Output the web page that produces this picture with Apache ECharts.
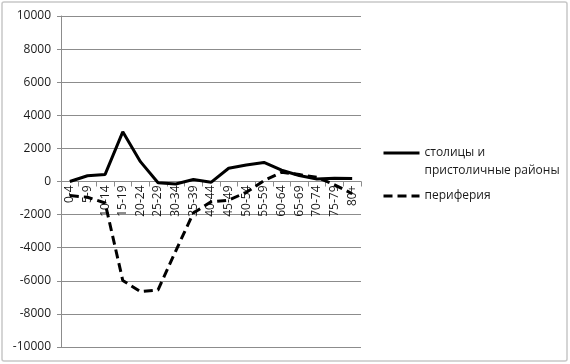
<!DOCTYPE html>
<html>
<head>
<meta charset="utf-8">
<script src="https://cdn.jsdelivr.net/npm/echarts@6/dist/echarts.min.js"></script>
<style>
html,body{margin:0;padding:0;background:#fff;}
#c{width:570px;height:364px;}
</style>
</head>
<body>
<div id="c"></div>
<script>
const categories = ['0-4','5-9','10-14','15-19','20-24','25-29','30-34','35-39','40-44','45-49','50-54','55-59','60-64','65-69','70-74','75-79','80+'];
const capitalName = 'столицы и\nпристоличные районы';
const capitalValues = [0, 350, 430, 3000, 1200, -80, -150, 120, -50, 800, 1000, 1150, 680, 360, 150, 190, 180];
const peripheryName = 'периферия';
const peripheryValues = [-850, -950, -1300, -5980, -6650, -6550, -4200, -1900, -1230, -1130, -650, 50, 560, 420, 250, -200, -740];
const yTicks = {min: -10000, max: 10000, interval: 2000};

const chart = echarts.init(document.getElementById('c'), null, {renderer: 'canvas'});
const font = '"Open Sans", "Liberation Sans", sans-serif';
const gridTop = 16, gridBottom = 17, H = 364;
const plotH = H - gridTop - gridBottom;
// distance from the bottom edge of the plot to the value 0
const zeroOffset = plotH * (0 - yTicks.min) / (yTicks.max - yTicks.min);
chart.setOption({
  animation: false,
  backgroundColor: '#fff',
  textStyle: {fontFamily: font},
  graphic: [{
    type: 'rect', silent: true,
    shape: {x: 2, y: 2, width: 565, height: 359, r: 2},
    style: {fill: 'none', stroke: '#c8c8c8', lineWidth: 1.5}
  }],
  grid: {left: 61, right: 209, top: gridTop, bottom: gridBottom, containLabel: false},
  legend: {
    orient: 'vertical', left: 382, top: 126, padding: 0, itemGap: 7,
    itemWidth: 36, itemHeight: 14,
    itemStyle: {opacity: 0, borderWidth: 0},
    lineStyle: {width: 3},
    // an empty first line keeps the icon level with the first text line
    formatter: name => name === capitalName ? ' \n' + name : name,
    textStyle: {fontSize: 12, color: '#1a1a1a', fontFamily: font, lineHeight: 18},
    data: [capitalName, peripheryName]
  },
  xAxis: {
    type: 'category', data: categories, boundaryGap: true,
    position: 'bottom', offset: -zeroOffset,
    axisLine: {onZero: false, lineStyle: {color: '#8c8c8c', width: 1}},
    axisTick: {show: true, alignWithLabel: false, length: 5, lineStyle: {color: '#8c8c8c'}},
    axisLabel: {rotate: 90, interval: 0, fontSize: 12, color: '#1a1a1a', margin: 4, fontFamily: font},
    splitLine: {show: false}
  },
  yAxis: {
    type: 'value', min: yTicks.min, max: yTicks.max, interval: yTicks.interval,
    axisLine: {show: true, lineStyle: {color: '#8c8c8c', width: 1}},
    axisTick: {show: true, length: 4, lineStyle: {color: '#8c8c8c'}},
    axisLabel: {fontSize: 12, color: '#1a1a1a', margin: 10, fontFamily: font, formatter: v => String(v)},
    splitLine: {show: true, lineStyle: {color: '#8c8c8c', width: 1}}
  },
  series: [
    {
      name: capitalName, type: 'line', data: capitalValues,
      symbol: 'none', showSymbol: false, smooth: false,
      lineStyle: {color: '#000', width: 3, type: 'solid'},
      itemStyle: {color: '#000'}, z: 3
    },
    {
      name: peripheryName, type: 'line', data: peripheryValues,
      symbol: 'none', showSymbol: false, smooth: false,
      lineStyle: {color: '#000', width: 3, type: [9, 5]},
      itemStyle: {color: '#000'}, z: 3
    }
  ]
});
</script>
</body>
</html>
